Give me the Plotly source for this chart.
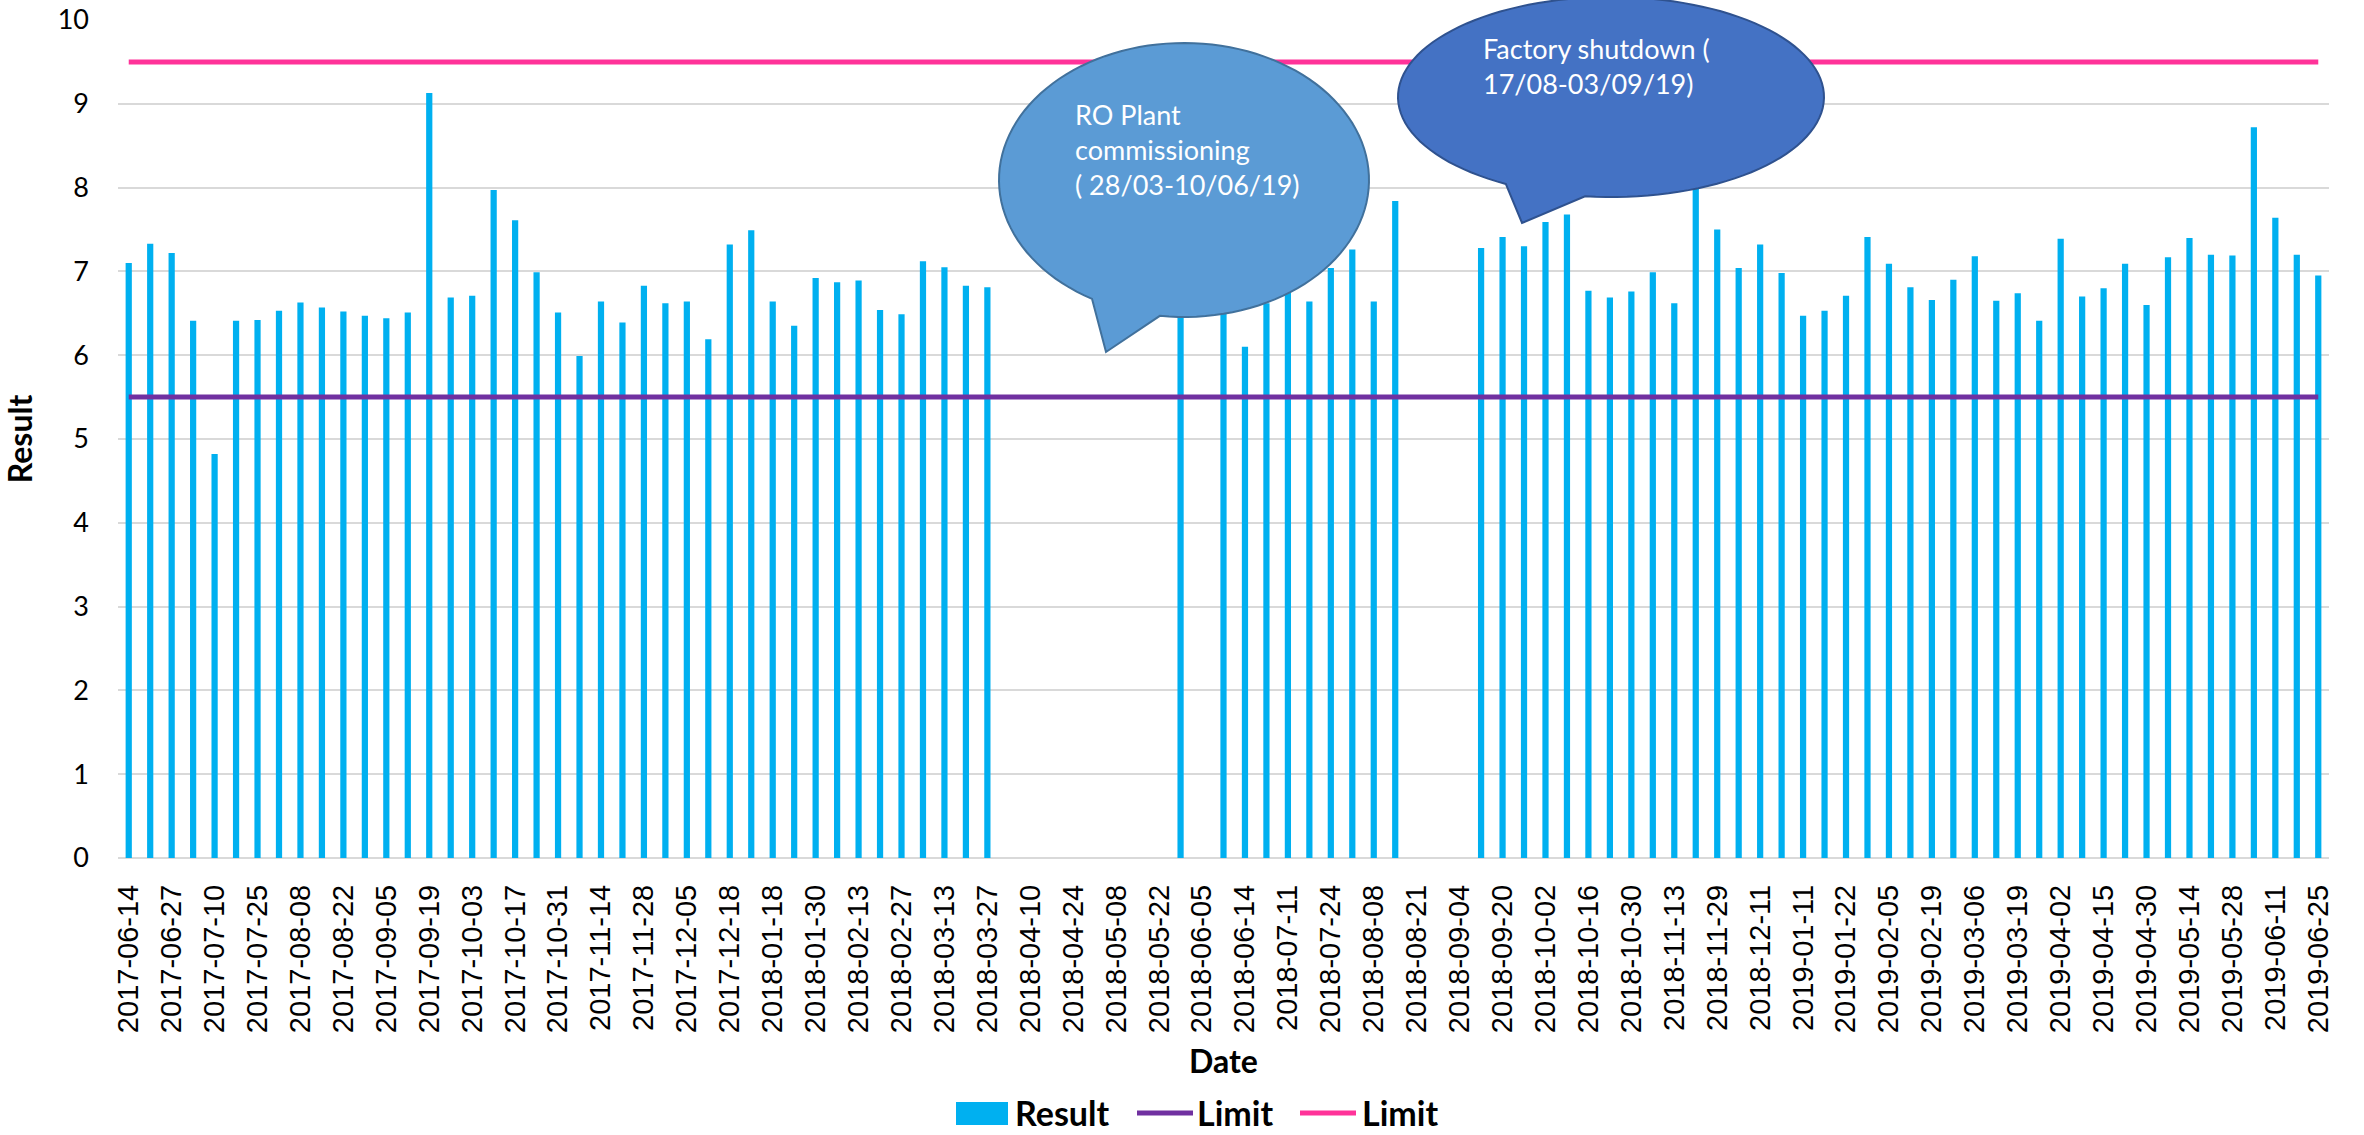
import numpy as np
import plotly.graph_objects as go

# sample dates (every second one is labelled on the axis)
dates = [
    "2017-06-14", "2017-06-20", "2017-06-27", "2017-07-04", "2017-07-10", "2017-07-18",
    "2017-07-25", "2017-08-01", "2017-08-08", "2017-08-15", "2017-08-22", "2017-08-29",
    "2017-09-05", "2017-09-12", "2017-09-19", "2017-09-26", "2017-10-03", "2017-10-10",
    "2017-10-17", "2017-10-24", "2017-10-31", "2017-11-07", "2017-11-14", "2017-11-21",
    "2017-11-28", "2017-12-01", "2017-12-05", "2017-12-12", "2017-12-18", "2018-01-09",
    "2018-01-18", "2018-01-23", "2018-01-30", "2018-02-06", "2018-02-13", "2018-02-20",
    "2018-02-27", "2018-03-06", "2018-03-13", "2018-03-20", "2018-03-27", "2018-04-03",
    "2018-04-10", "2018-04-17", "2018-04-24", "2018-05-01", "2018-05-08", "2018-05-15",
    "2018-05-22", "2018-05-29", "2018-06-05", "2018-06-08", "2018-06-14", "2018-06-26",
    "2018-07-11", "2018-07-17", "2018-07-24", "2018-07-31", "2018-08-08", "2018-08-14",
    "2018-08-21", "2018-08-28", "2018-09-04", "2018-09-11", "2018-09-20", "2018-09-25",
    "2018-10-02", "2018-10-09", "2018-10-16", "2018-10-23", "2018-10-30", "2018-11-06",
    "2018-11-13", "2018-11-20", "2018-11-29", "2018-12-04", "2018-12-11", "2018-12-18",
    "2019-01-11", "2019-01-15", "2019-01-22", "2019-01-29", "2019-02-05", "2019-02-12",
    "2019-02-19", "2019-02-26", "2019-03-06", "2019-03-12", "2019-03-19", "2019-03-26",
    "2019-04-02", "2019-04-09", "2019-04-15", "2019-04-23", "2019-04-30", "2019-05-07",
    "2019-05-14", "2019-05-21", "2019-05-28", "2019-06-04", "2019-06-11", "2019-06-18",
    "2019-06-25",
]

result = [
    7.10, 7.33, 7.22, 6.41, 4.82, 6.41, 6.42, 6.53, 6.63, 6.57,
    6.52, 6.47, 6.44, 6.51, 9.13, 6.69, 6.71, 7.97, 7.61, 6.99,
    6.51, 5.99, 6.64, 6.39, 6.83, 6.62, 6.64, 6.19, 7.32, 7.49,
    6.64, 6.35, 6.92, 6.87, 6.89, 6.54, 6.49, 7.12, 7.05, 6.83,
    6.81, None, None, None, None, None, None, None, None, 6.90,
    None, 6.70, 6.10, 6.62, 6.75, 6.64, 7.04, 7.26, 6.64, 7.84,
    None, None, None, 7.28, 7.41, 7.30, 7.59, 7.68, 6.77, 6.69,
    6.76, 6.99, 6.62, 8.10, 7.50, 7.04, 7.32, 6.98, 6.47, 6.53,
    6.71, 7.41, 7.09, 6.81, 6.66, 6.90, 7.18, 6.65, 6.74, 6.41,
    7.39, 6.70, 6.80, 7.09, 6.60, 7.17, 7.40, 7.20, 7.19, 8.72,
    7.64, 7.20, 6.95,
]

limit_low = 5.5
limit_high = 9.5

BLUE, PURPLE, PINK = "#00B0F0", "#7030A0", "#FF3399"

W, H = 2364, 1135
L, R, T, B = 118, 35, 20, 277


def to_paper(x, y):
    return (x - L) / (W - L - R), (H - B - y) / (H - T - B)


def callout_path(cx, cy, rx, ry, a0, a1, tip):
    t = np.radians(np.linspace(a0, a1, 120))
    pts = [(cx + rx * np.cos(a), cy + ry * np.sin(a)) for a in t] + [tip]
    pts = [to_paper(x, y) for x, y in pts]
    return "M " + " L ".join(f"{x:.5f},{y:.5f}" for x, y in pts) + " Z"


fig = go.Figure()
fig.add_trace(go.Bar(x=dates, y=result, name="Result", marker_color=BLUE,
                     marker_line_width=0))
fig.add_trace(go.Scatter(x=dates, y=[limit_low] * len(dates), name="Limit", mode="lines",
                         line=dict(color=PURPLE, width=5)))
fig.add_trace(go.Scatter(x=dates, y=[limit_high] * len(dates), name="Limit", mode="lines",
                         line=dict(color=PINK, width=5)))

# speech bubbles
fig.add_shape(type="path", xref="paper", yref="paper",
              path=callout_path(1184, 180, 185, 137, 119.8, 457.5, (1106, 352)),
              fillcolor="#5B9BD5", line=dict(color="#41719C", width=2))
fig.add_shape(type="path", xref="paper", yref="paper",
              path=callout_path(1611, 97, 213, 100, 119.6, 457.0, (1522, 223)),
              fillcolor="#4472C4", line=dict(color="#2F528F", width=2))

bubble_font = dict(family="Lato", size=27, color="white")
bx, by = to_paper(1073, 149)
fig.add_annotation(x=bx, y=by, xref="paper", yref="paper", xanchor="left", yanchor="middle",
                   align="left", showarrow=False, font=bubble_font,
                   text="RO Plant<br>commissioning<br>( 28/03-10/06/19)")
bx, by = to_paper(1481, 65.5)
fig.add_annotation(x=bx, y=by, xref="paper", yref="paper", xanchor="left", yanchor="middle",
                   align="left", showarrow=False, font=bubble_font,
                   text="Factory shutdown (<br>17/08-03/09/19)")

# legend drawn by hand so the swatches match the original sizes
legend_font = dict(family="Lato", size=34, color="black", weight="bold")
ly = 1113
x0, y0 = to_paper(956, ly - 11)
x1, y1 = to_paper(1008, ly + 12)
fig.add_shape(type="rect", xref="paper", yref="paper", x0=x0, y0=y0, x1=x1, y1=y1,
              fillcolor=BLUE, line_width=0)
for (sx0, sx1), color in zip([(1137, 1193), (1300, 1356)], [PURPLE, PINK]):
    ax, ay = to_paper(sx0, ly)
    bx2, _ = to_paper(sx1, ly)
    fig.add_shape(type="line", xref="paper", yref="paper", x0=ax, y0=ay, x1=bx2, y1=ay,
                  line=dict(color=color, width=5))
for tx, label in [(1014, "Result"), (1196, "Limit"), (1361, "Limit")]:
    px_, py_ = to_paper(tx, ly - 1)
    fig.add_annotation(x=px_, y=py_, xref="paper", yref="paper", xanchor="left",
                       yanchor="middle", showarrow=False, text=label, font=legend_font,
                       borderpad=0)

fig.update_layout(
    width=W, height=H,
    margin=dict(l=L, r=R, t=T, b=B, autoexpand=False),
    plot_bgcolor="white", paper_bgcolor="white",
    bargap=0.71,
    showlegend=False,
)
fig.update_xaxes(
    type="category", tickmode="array", tickvals=dates[::2], ticktext=dates[::2],
    tickangle=-90, tickfont=dict(family="Liberation Sans", size=29, color="black"),
    ticks="", ticklabelstandoff=20, showgrid=False, showline=False,
    title=dict(text="Date", standoff=18,
               font=dict(family="Lato", size=32, color="black", weight="bold")),
)
fig.update_yaxes(
    range=[0, 10], dtick=1, showgrid=True, gridcolor="#D9D9D9", gridwidth=2,
    zeroline=True, zerolinecolor="#D9D9D9", zerolinewidth=2,
    tickfont=dict(family="Lato", size=27, color="black"), ticks="", ticklabelstandoff=28,
    title=dict(text="Result", standoff=18,
               font=dict(family="Lato", size=32, color="black", weight="bold")),
)

fig.write_html("out.html", config={"displayModeBar": False},
               post_script="document.body.style.margin='0';")
